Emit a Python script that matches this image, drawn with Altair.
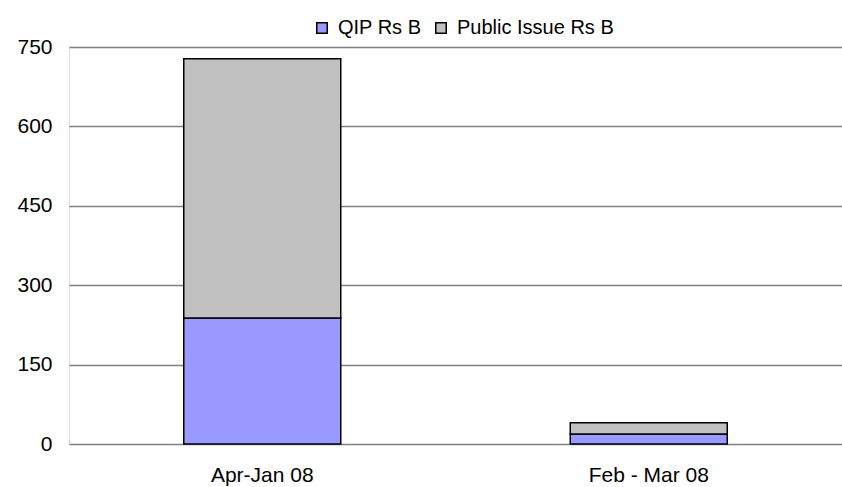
import altair as alt
import pandas as pd

periods = ["Apr-Jan 08", "Feb - Mar 08"]
series = ["QIP Rs B", "Public Issue Rs B"]
qip = [238, 19]
public_issue = [490, 21]
colors = ["#9999FF", "#C0C0C0"]

rows = []
for i, p in enumerate(periods):
    rows.append({"period": p, "series": series[0], "value": qip[i], "ord": 0})
    rows.append({"period": p, "series": series[1], "value": public_issue[i], "ord": 1})
df = pd.DataFrame(rows)

chart = alt.Chart(df).mark_bar(size=157, stroke="black", strokeWidth=1.5).encode(
    x=alt.X("period:N", sort=periods, title=None,
            scale=alt.Scale(paddingInner=0, paddingOuter=0),
            axis=alt.Axis(labelAngle=0, labelFontSize=21, labelPadding=20, ticks=False,
                          domain=False, labelColor="black", labelFont="Liberation Sans")),
    y=alt.Y("value:Q", stack="zero", title=None,
            scale=alt.Scale(domain=[0, 750], nice=False),
            axis=alt.Axis(values=[0, 150, 300, 450, 600, 750], ticks=False, domain=False,
                          labelFontSize=21, labelPadding=17, labelColor="black",
                          labelFont="Liberation Sans",
                          gridColor="#808080", gridWidth=1.5)),
    color=alt.Color("series:N", sort=series,
                    scale=alt.Scale(domain=series, range=colors),
                    legend=alt.Legend(title=None, orient="none", direction="horizontal",
                                      legendX=243, legendY=-29,
                                      symbolType="square", symbolSize=110,
                                      symbolStrokeColor="black", symbolStrokeWidth=1.5,
                                      labelFontSize=20, labelFont="Liberation Sans",
                                      labelColor="black", columnPadding=9, labelOffset=6)),
    order=alt.Order("ord:Q"),
).properties(
    width=773, height=397,
    autosize=alt.AutoSizeParams(type="none"),
    padding={"left": 69, "top": 47, "right": 0, "bottom": 43},
).configure_view(stroke=None).configure(background="white")

chart.save("out.html", embed_options={"renderer": "svg", "actions": False})
